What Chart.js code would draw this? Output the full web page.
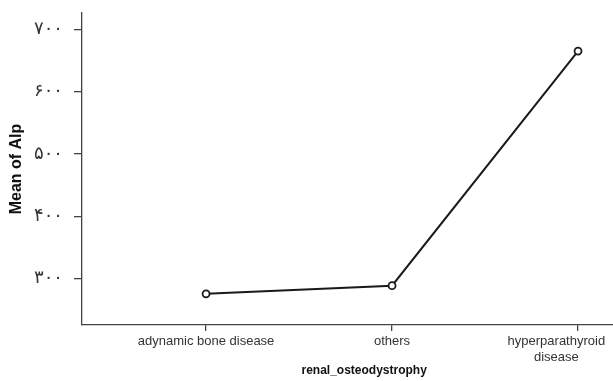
<!DOCTYPE html>
<html>
<head>
<meta charset="utf-8">
<script src="https://cdn.jsdelivr.net/npm/chart.js@4.4.0/dist/chart.umd.min.js"></script>
<style>
html, body { margin: 0; padding: 0; background: #fff; }
</style>
</head>
<body>
<canvas id="alp-chart" width="613" height="381"></canvas>
<script>
const categories = ["adynamic bone disease", "others", "hyperparathyroid disease"];
const xTickLabels = [["adynamic bone disease"], ["others"], ["hyperparathyroid", "disease"]];
const meanAlp = [276, 289, 665];
const yTickValues = [300, 400, 500, 600, 700];

function toPersianDigits(n) {
    return String(n).replace(/\d/g, d => String.fromCharCode(0x06F0 + Number(d)))
}

(function () {
    'use strict'

    const sans = "'Liberation Sans', Arial, sans-serif";
    let canvas = document.getElementById("alp-chart");
    let config = {
        type: "line",
        data: {
            datasets: [
                {
                    data: categories.map((c, i) => ({ x: i, y: meanAlp[i] })),
                    borderColor: "#1a1a1a",
                    borderWidth: 2,
                    backgroundColor: "#ffffff",
                    pointRadius: 3.5,
                    pointBorderWidth: 1.8,
                    pointBorderColor: "#1a1a1a",
                    pointBackgroundColor: "#ffffff",
                    tension: 0
                }
            ]
        },
        options: {
            responsive: false,
            animation: false,
            layout: {
                autoPadding: false,
                padding: { left: 0, top: 13, right: 0, bottom: 0 }
            },
            plugins: {
                legend: { display: false },
                tooltip: { enabled: false }
            },
            scales: {
                x: {
                    type: "linear",
                    min: -0.667,
                    max: 2.188,
                    afterBuildTicks: scale => {
                        scale.ticks = categories.map((c, i) => ({ value: i }))
                    },
                    afterFit: scale => {
                        scale.height = 56
                        scale.paddingLeft = 0
                        scale.paddingRight = 0
                    },
                    border: { color: "#444", width: 1.3 },
                    grid: { drawOnChartArea: false, drawTicks: true, tickLength: 6, color: "#444", lineWidth: 1.3 },
                    ticks: {
                        autoSkip: false,
                        maxRotation: 0,
                        padding: 3,
                        color: "#333",
                        font: { family: sans, size: 13 },
                        callback: (value, index) => {
                            let lines = xTickLabels[value]
                            if (!lines) return ""
                            // last label is pulled left so it stays inside the frame
                            return value === categories.length - 1 ? lines.map(l => l + " ".repeat(12)) : lines
                        }
                    },
                    title: {
                        display: true,
                        // leading spaces push the title a bit right, as in the original
                        text: " ".repeat(10) + "renal_osteodystrophy",
                        color: "#111",
                        font: { family: sans, size: 12, weight: "bold" },
                        padding: { top: 0, bottom: 3 }
                    }
                },
                y: {
                    min: 226,
                    max: 726,
                    afterBuildTicks: scale => {
                        scale.ticks = yTickValues.map(v => ({ value: v }))
                    },
                    afterFit: scale => {
                        scale.width = 82
                        scale.paddingTop = 0
                        scale.paddingBottom = 0
                    },
                    border: { color: "#444", width: 1.3 },
                    grid: { drawOnChartArea: false, drawTicks: true, tickLength: 8, color: "#444", lineWidth: 1.3 },
                    ticks: {
                        padding: 11,
                        color: "#333",
                        font: { family: "'DejaVu Sans', sans-serif", size: 18 },
                        callback: value => toPersianDigits(value)
                    },
                    title: {
                        display: true,
                        text: "Mean of Alp",
                        color: "#111",
                        font: { family: sans, size: 16, weight: "bold" },
                        padding: { top: 7, bottom: 0 }
                    }
                }
            }
        }
    };

    let chart = new Chart(canvas, config);
})()
</script>
</body>
</html>
